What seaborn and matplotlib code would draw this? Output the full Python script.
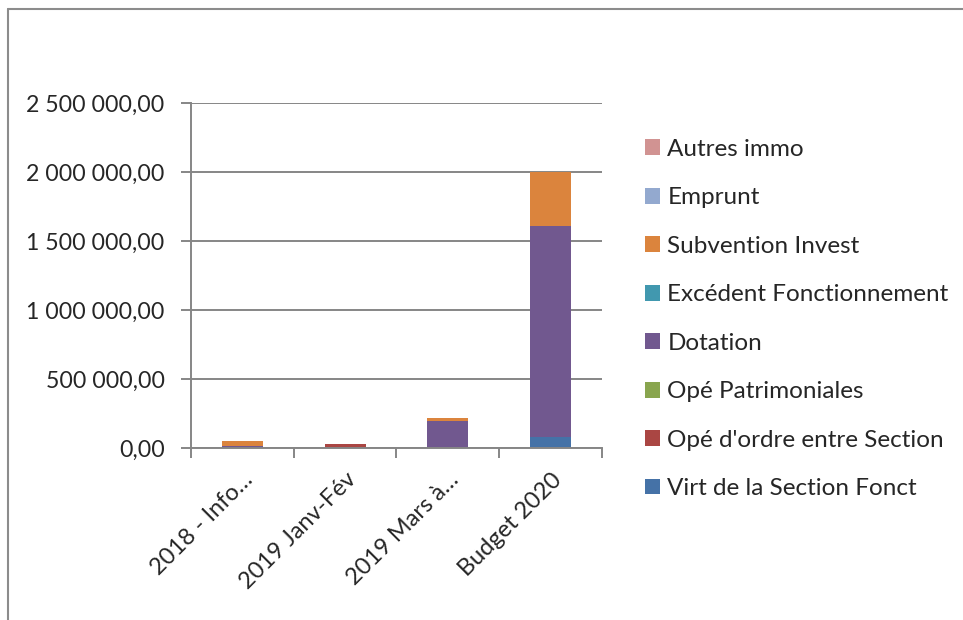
import numpy as np
import pandas as pd
import matplotlib
matplotlib.use("Agg")
import matplotlib.pyplot as plt
import seaborn as sns
from matplotlib.lines import Line2D
from matplotlib.patches import Patch
from matplotlib.ticker import FuncFormatter, FixedLocator

# ---- data ----
categories = ["2018 - Info…", "2019 Janv-Fév", "2019 Mars à…", "Budget 2020"]
series_names = ["Virt de la Section Fonct", "Opé d'ordre entre Section", "Opé Patrimoniales",
                "Dotation", "Excédent Fonctionnement", "Subvention Invest", "Emprunt", "Autres immo"]
virt = [0, 0, 0, 80000]
ordre = [0, 32000, 0, 0]
patrimoniales = [0, 0, 0, 0]
dotation = [15000, 0, 196000, 1530000]
excedent = [0, 0, 0, 0]
subvention = [35000, 0, 20000, 390000]
emprunt = [0, 0, 0, 0]
autres = [0, 0, 0, 0]
series_colors = ["#4572A7", "#AA4643", "#89A54E", "#71588F",
                 "#4198AF", "#DB843D", "#93A9CF", "#D19392"]
y_ticks = [0, 500000, 1000000, 1500000, 2000000, 2500000]

sns.set_style("white")
plt.rcParams['font.family'] = ['Lato', 'DejaVu Sans']

fig = plt.figure(figsize=(9.63, 6.2), dpi=100)
ax = fig.add_axes([0.1983, 0.2774, 0.4268, 0.5565])

df = pd.DataFrame(dict(zip(series_names,
                           [virt, ordre, patrimoniales, dotation, excedent, subvention, emprunt, autres])),
                  index=categories)

# stacked bars, one seaborn call per series
bottom = np.zeros(len(categories))
for name, col in zip(series_names, series_colors):
    vals = df[name].values
    sns.barplot(x=categories, y=vals, bottom=bottom, color=col, width=0.4,
                saturation=1, ax=ax, linewidth=0)
    bottom = bottom + vals

grid_col = "#868686"
fs = 16.7
ax.set_ylim(0, 2500000)
ax.set_xlim(-0.5, len(categories) - 0.5)
ax.yaxis.set_major_locator(FixedLocator(y_ticks))
ax.yaxis.set_major_formatter(FuncFormatter(lambda v, p: f"{v:,.2f}".replace(",", " ").replace(".", ",")))
ax.grid(axis="y", color=grid_col, linewidth=1.4)
ax.set_axisbelow(True)
for s in ["top", "right"]:
    ax.spines[s].set_visible(False)
for s in ["left", "bottom"]:
    ax.spines[s].set_color(grid_col)
    ax.spines[s].set_linewidth(1.4)

ax.set_xticks(range(len(categories)))
ax.set_xticklabels(categories, rotation=45, ha="right", rotation_mode="anchor")
ax.xaxis.set_minor_locator(FixedLocator(np.arange(len(categories) + 1) - 0.5))
ax.tick_params(axis="x", which="minor", length=7, width=1.4, color=grid_col, direction="out", bottom=True)
ax.tick_params(axis="x", which="major", length=0, labelsize=fs + 0.3, pad=15)
ax.tick_params(axis="y", length=7, width=1.4, color=grid_col, direction="out", left=True, labelsize=fs, pad=12)
ax.set_xlabel("")
ax.set_ylabel("")

handles = [Patch(facecolor=c, edgecolor="none", label=n) for n, c in zip(series_names, series_colors)]
leg = ax.legend(handles=handles[::-1], loc="upper left", bbox_to_anchor=(0.6698, 0.776),
                bbox_transform=fig.transFigure, frameon=False, fontsize=17.5,
                handlelength=0.62, handleheight=0.62, handletextpad=0.3, labelspacing=1.13,
                borderaxespad=0, borderpad=0)

# outer chart border (top and left visible)
fig.add_artist(Line2D([8 / 963, 8 / 963], [0, 1 - 9 / 620], transform=fig.transFigure,
                      color="#8c8c8c", linewidth=1.5))
fig.add_artist(Line2D([8 / 963, 1], [1 - 9 / 620, 1 - 9 / 620], transform=fig.transFigure,
                      color="#8c8c8c", linewidth=1.5))

fig.savefig("out.png", dpi=100)
